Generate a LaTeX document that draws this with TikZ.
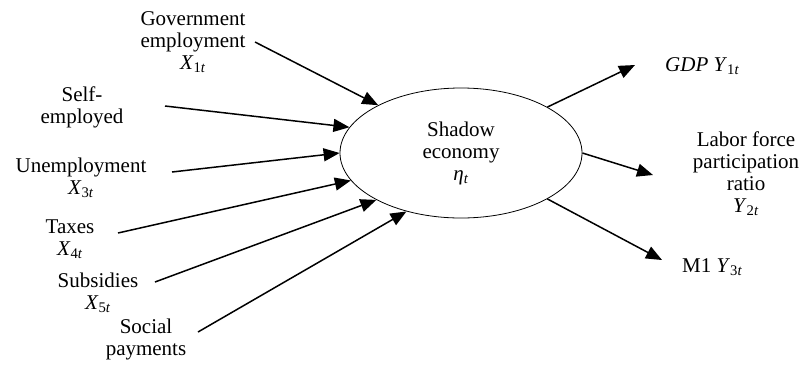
\documentclass[tikz,border=0pt]{standalone}
\usepackage{fontspec}
\setmainfont{Liberation Serif}
\usetikzlibrary{arrows.meta,shapes.geometric}
\newcommand{\varsub}[3]{\textit{#1}\textsubscript{#2\textit{#3}}}
\begin{document}
\begin{tikzpicture}[x=1pt,y=-1pt,
  font=\fontsize{21}{22}\selectfont,
  lab/.style={align=center,inner sep=2pt},
  arr/.style={line width=1.5pt,-{Triangle[length=16pt,width=13pt]}}]
\useasboundingbox (0,0) rectangle (805,365);
% latent variable
\node[ellipse,draw,line width=0.8pt,minimum width=242pt,minimum height=130pt,inner sep=0pt,align=center] (se) at (461,153) {Shadow\\economy\\\varsub{η}{}{t}};
% causes
\node[lab] (gov) at (193,42) {Government\\employment\\\varsub{X}{1}{t}};
\node[lab] (self) at (82,107) {Self-\\employed};
\node[lab] (unemp) at (81,178) {Unemployment\\\varsub{X}{3}{t}};
\node[lab] (taxes) at (70,239) {Taxes\\\varsub{X}{4}{t}};
\node[lab] (subs) at (98,293) {Subsidies\\\varsub{X}{5}{t}};
\node[lab] (soc) at (146,339) {Social\\payments};
% indicators
\node[lab,anchor=west] (gdp) at (663,66) {\textit{GDP} \varsub{Y}{1}{t}};
\node[lab] (lab) at (746,174) {Labor force\\participation\\ratio\\\varsub{Y}{2}{t}};
\node[lab,anchor=west] (m1) at (680,267) {M1 \varsub{Y}{3}{t}};
% tails / tips
\coordinate (govT) at (255,42);
\coordinate (selfT) at (165,106);
\coordinate (unempT) at (172,172);
\coordinate (taxesT) at (118,233);
\coordinate (subsT) at (155,282);
\coordinate (socT) at (198,332);
\coordinate (gdpT) at (635,65);
\coordinate (labT) at (653,175);
\coordinate (m1T) at (662,260);
% arrows
\draw[arr] (govT) -- (se.150.8);
\draw[arr] (selfT) -- (se.167.4);
\draw[arr] (unempT) -- (se.180);
\draw[arr] (taxesT) -- (se.194.5);
\draw[arr] (subsT) -- (se.209);
\draw[arr] (socT) -- (se.227);
\draw[arr] (se.28) -- (gdpT);
\draw[arr] (se.0) -- (labT);
\draw[arr] (se.-28) -- (m1T);
\end{tikzpicture}
\end{document}
